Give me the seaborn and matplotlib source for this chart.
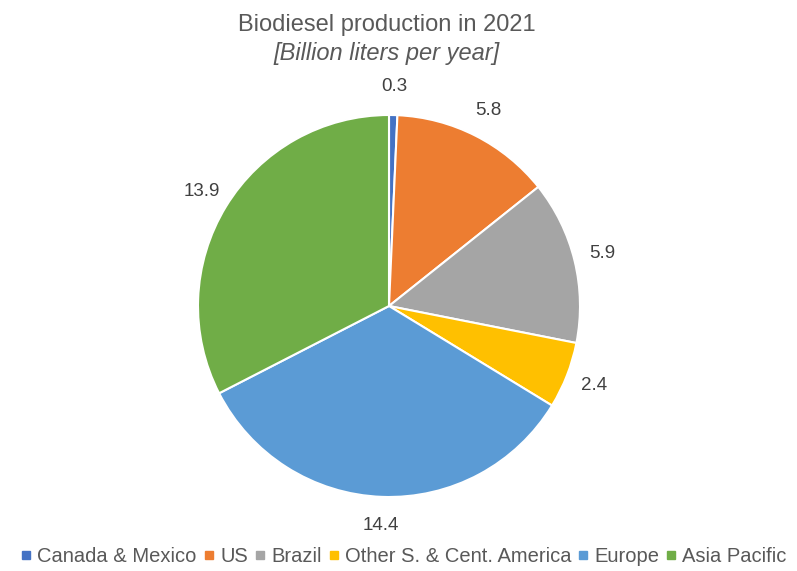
import matplotlib
matplotlib.use("Agg")
import matplotlib.pyplot as plt
import seaborn as sns
from matplotlib.lines import Line2D

regions = ["Canada & Mexico", "US", "Brazil", "Other S. & Cent. America",
           "Europe", "Asia Pacific"]
production = [0.3, 5.8, 5.9, 2.4, 14.4, 13.9]
colors = ["#4472C4", "#ED7D31", "#A5A5A5", "#FFC000", "#5B9BD5", "#70AD47"]

sns.set_theme(style="white")
plt.rcParams['font.family'] = ['Liberation Sans', 'DejaVu Sans']
palette = sns.color_palette(colors)

fig = plt.figure(figsize=(7.97, 5.71), dpi=100)
ax = fig.add_axes([198 / 797, 74 / 571, 382 / 797, 382 / 571])

wedges, texts = ax.pie(production, colors=palette, startangle=90,
                       counterclock=False, radius=1,
                       labels=[f"{v:.1f}" for v in production],
                       labeldistance=1.15,
                       wedgeprops=dict(edgecolor="white", linewidth=1.5),
                       textprops=dict(fontsize=13.5, color="#404040"))
for t in texts:
    t.set_horizontalalignment("center")
    t.set_verticalalignment("center")
ax.set_xlim(-1, 1)
ax.set_ylim(-1, 1)
ax.set_aspect("equal")
ax.axis("off")

fig.text(0.485, 0.957, "Biodiesel production in 2021", ha="center", va="center",
         fontsize=17, color="#595959")
fig.text(0.485, 0.906, "[Billion liters per year]", ha="center", va="center",
         fontsize=17, color="#595959", style="italic")

handles = [Line2D([0], [0], marker="s", linestyle="", markersize=5.5,
                  markerfacecolor=c, markeredgecolor=c) for c in palette]
fig.legend(handles, regions, loc="center", bbox_to_anchor=(0.507, 0.026),
           ncol=6, frameon=False, fontsize=14.5, handlelength=0.5,
           handletextpad=0.3, columnspacing=0.35, labelcolor="#595959")

fig.savefig("out.png", dpi=100)
